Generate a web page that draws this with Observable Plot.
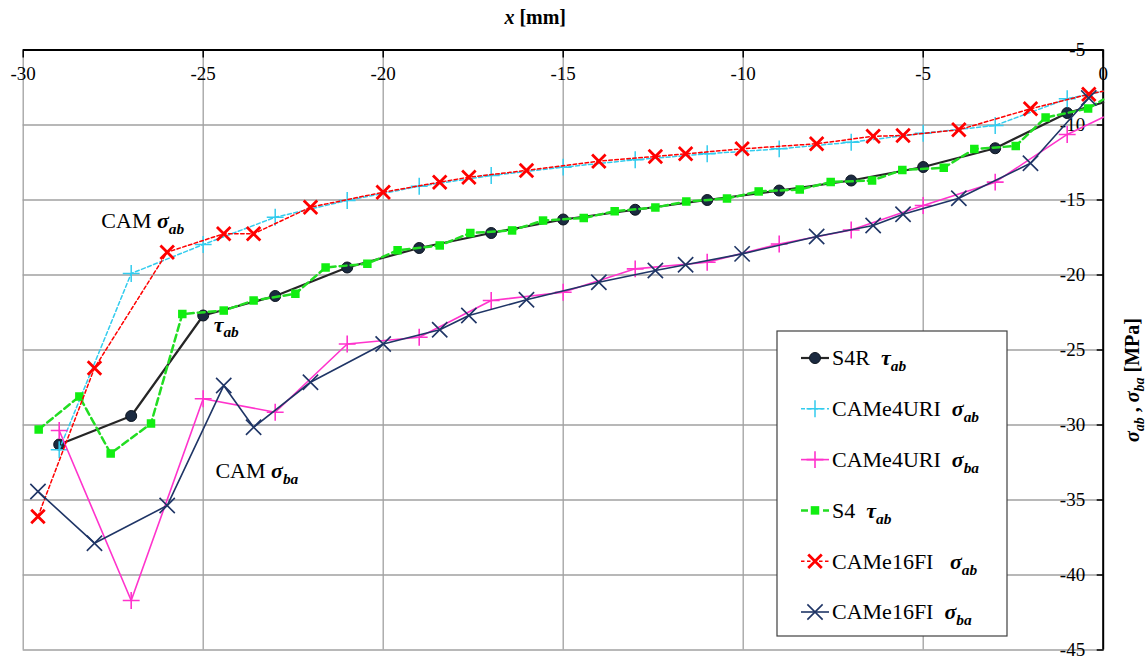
<!DOCTYPE html>
<html><head><meta charset="utf-8">
<script src="https://cdn.jsdelivr.net/npm/d3@7"></script>
<script src="https://cdn.jsdelivr.net/npm/@observablehq/plot@0.6"></script>
<style>
body{margin:0;background:#fff}
#chart{position:relative;width:1145px;height:659px}
</style>
</head><body><div id="chart"></div>
<script>
// ---- data ----
const s4rX = [-29,-27,-25,-23,-21,-19,-17,-15,-13,-11,-9,-7,-5,-3,-1,0];
const s4rTau = [-31.3,-29.4,-22.7,-21.4,-19.5,-18.2,-17.2,-16.3,-15.65,-15.0,-14.37,-13.7,-12.8,-11.55,-9.2,-8.5];

const uriX = [-29,-27,-25,-23,-21,-19,-17,-15,-13,-11,-9,-7,-5,-3,-1,0];
const uriSab = [-31.65,-19.9,-17.97,-16.15,-15.03,-14.08,-13.37,-12.81,-12.32,-11.92,-11.59,-11.15,-10.55,-10.03,-8.25,-7.75];
const uriSba = [-30.37,-41.7,-28.25,-29.15,-24.6,-24.15,-21.7,-21.15,-19.59,-19.15,-17.93,-17.0,-15.37,-13.81,-10.63,-9.48];

const s4X = [-29.57,-28.44,-27.57,-26.45,-25.58,-24.43,-23.6,-22.44,-21.6,-20.44,-19.6,-18.43,-17.58,-16.42,-15.56,-14.43,-13.57,-12.44,-11.58,-10.45,-9.57,-8.43,-7.57,-6.42,-5.58,-4.43,-3.58,-2.43,-1.6,-0.42,0];
const s4Tau = [-30.3,-28.1,-31.9,-29.9,-22.6,-22.37,-21.7,-21.25,-19.5,-19.25,-18.35,-18.03,-17.2,-17.03,-16.37,-16.2,-15.75,-15.5,-15.1,-14.9,-14.43,-14.3,-13.8,-13.7,-13.0,-12.85,-11.6,-11.4,-9.5,-8.9,-8.3];

const fiX = [-29.59,-28.02,-26.0,-24.43,-23.6,-22.02,-20,-18.43,-17.62,-16.02,-14.01,-12.44,-11.6,-10.03,-7.96,-6.39,-5.56,-4.01,-2.02,-0.4,0];
const fiSab = [-36.1,-26.2,-18.48,-17.25,-17.25,-15.48,-14.48,-13.81,-13.48,-13.03,-12.41,-12.1,-11.92,-11.59,-11.25,-10.75,-10.7,-10.32,-8.92,-7.95,-7.75];
const fiSba = [-34.43,-37.88,-35.37,-27.37,-30.15,-27.15,-24.6,-23.65,-22.7,-21.65,-20.48,-19.7,-19.32,-18.59,-17.43,-16.7,-15.95,-14.88,-12.55,-8.2,null];

const seriesNames = ["S4R\u00a0\u00a0τ_ab","CAMe4URI\u00a0\u00a0σ_ab","CAMe4URI\u00a0\u00a0σ_ba","S4\u00a0\u00a0τ_ab","CAMe16FI\u00a0\u00a0\u00a0σ_ab","CAMe16FI\u00a0\u00a0σ_ba"];
const seriesX = [s4rX, uriX, uriX, s4X, fiX, fiX];
const seriesY = [s4rTau, uriSab, uriSba, s4Tau, fiSab, fiSba];

const xTicks = [-30,-25,-20,-15,-10,-5,0];
const yTicks = [-45,-40,-35,-30,-25,-20,-15,-10,-5];

const annoText = ["CAM σ_ab", "τ_ab", "CAM σ_ba"];
const annoX = [-27.83, -24.71, -24.66];
const annoY = [-16.4, -23.3, -33.07];

// ---- styles ----
const styles = [
  {stroke:"#262626", width:2.2, dash:null, symbol:"circle", r:5.5, fill:"#1b2a40", mstroke:"#0d1520", mwidth:1},
  {stroke:"#33ccee", width:1.5, dash:"4,2.5", symbol:"plus", r:5.5, fill:"none", mstroke:"#33ccee", mwidth:1.5},
  {stroke:"#ff33cc", width:1.6, dash:null, symbol:"plus", r:5.5, fill:"none", mstroke:"#ff33cc", mwidth:1.6},
  {stroke:"#22dd22", width:2.5, dash:"7,4", symbol:"square", r:4.8, fill:"#11ee11", mstroke:"none", mwidth:0},
  {stroke:"#ff0000", width:1.5, dash:"3.5,2.5", symbol:"times", r:6.2, fill:"none", mstroke:"#ff0000", mwidth:2.8},
  {stroke:"#1f3566", width:1.6, dash:null, symbol:"times", r:7, fill:"none", mstroke:"#1f3566", mwidth:1.6}
];

const rows = seriesNames.map((name, i) => seriesX[i].map((x, j) => ({series: name, x, y: seriesY[i][j]})));

const gridStyle = {stroke:"#a0a0a0", strokeOpacity:1, strokeWidth:1.3};
const marks = [
  Plot.gridX(xTicks, gridStyle),
  Plot.gridY(yTicks, gridStyle),
  Plot.ruleY([-5], {stroke:"#000", strokeWidth:2}),
  Plot.ruleX([0], {stroke:"#000", strokeWidth:2}),
  Plot.axisX(xTicks, {anchor:"top", tickSize:-7, fill:"none", label:null, stroke:"#000", strokeWidth:1.5}),
  Plot.axisY(yTicks, {anchor:"right", tickSize:-7, fill:"none", label:null, stroke:"#000", strokeWidth:1.5}),
  Plot.text(xTicks, {x: d => d, text: d => String(d), frameAnchor:"top", lineAnchor:"middle", textAnchor:"middle", dy:24, fontSize:19, fill:"#000"}),
  Plot.text(yTicks, {y: d => d, text: d => String(d), frameAnchor:"right", lineAnchor:"middle", dx:-18, textAnchor:"end", fontSize:19, fill:"#000"}),
];
rows.forEach((data, i) => {
  const s = styles[i];
  marks.push(Plot.line(data, {x:"x", y:"y", stroke:s.stroke, strokeWidth:s.width, strokeDasharray:s.dash}));
  marks.push(Plot.dot(data.filter(d => d.x < 0 && d.y != null), {x:"x", y:"y", symbol:s.symbol, r:s.r, fill:s.fill, stroke:s.mstroke, strokeWidth:s.mwidth}));
});
marks.push(Plot.text(annoText, {x: (d,i) => annoX[i], y: (d,i) => annoY[i], text: d => d, textAnchor:"start", lineAnchor:"middle", fontSize:22, fill:"#000"}));
marks.push(Plot.text(["*x* [mm]"], {frameAnchor:"top", textAnchor:"middle", lineAnchor:"middle", dx:-28, dy:-32, fontSize:20, fontWeight:"bold", fill:"#000"}));
marks.push(Plot.text(["σ_ab , σ_ba [MPa]"], {frameAnchor:"right", textAnchor:"middle", lineAnchor:"middle", dx:29, dy:30, rotate:-90, fontSize:20, fontWeight:"bold", fill:"#000"}));

const svg = Plot.plot({
  width:1145, height:659,
  marginLeft:22.7, marginRight:42.3, marginTop:49.5, marginBottom:9.5,
  x:{domain:[-30,0]}, y:{domain:[-45,-5]},
  style:{fontFamily:"'Liberation Serif', 'Times New Roman', serif", fontSize:"19px", background:"#fff", color:"#000", overflow:"visible"},
  marks
});

// ---- legend ----
const lg = d3.select(svg).append("g").attr("transform","translate(777,331)");
lg.append("rect").attr("width",230).attr("height",305).attr("fill","#fff").attr("stroke","#404040").attr("stroke-width",1.2);
const symMap = {circle:d3.symbolCircle, plus:d3.symbolPlus, square:d3.symbolSquare, times:d3.symbolTimes};
seriesNames.forEach((name, i) => {
  const s = styles[i];
  const yy = 27 + i * 50.8;
  lg.append("line").attr("x1",24).attr("x2",52).attr("y1",yy).attr("y2",yy)
    .attr("stroke",s.stroke).attr("stroke-width",s.width).attr("stroke-dasharray",s.dash);
  lg.append("path").attr("d", d3.symbol(symMap[s.symbol], s.r*s.r*Math.PI)())
    .attr("transform",`translate(38,${yy})`).attr("fill",s.fill).attr("stroke",s.mstroke).attr("stroke-width",s.mwidth);
  lg.append("text").attr("x",55).attr("y",yy).attr("dy","0.34em").attr("text-anchor","start")
    .attr("font-size",22).attr("fill","#000").text(name);
});

// ---- rich text: italic (*..*) and greek with subscript (σ_ab) ----
const NS = "http://www.w3.org/2000/svg";
function enrich(t) {
  const s = t.textContent;
  if (!/[*_]/.test(s)) return;
  t.textContent = "";
  const re = /\*([^*]+)\*|([στ])_([a-z]+)/g;
  let last = 0, m, shifted = false;
  const add = (str, opts) => {
    const sp = document.createElementNS(NS, "tspan");
    sp.textContent = str;
    if (opts.bi) { sp.setAttribute("font-style","italic"); sp.setAttribute("font-weight","bold"); }
    if (opts.it) sp.setAttribute("font-style","italic");
    if (opts.sub) { sp.setAttribute("font-size","0.7em"); sp.setAttribute("dy","0.38em"); shifted = true; }
    else if (shifted) { sp.setAttribute("dy","-0.266em"); shifted = false; }
    t.appendChild(sp);
  };
  while ((m = re.exec(s))) {
    if (m.index > last) add(s.slice(last, m.index), {});
    if (m[1]) add(m[1], {it:true});
    else { add(m[2], {bi:true}); add(m[3], {bi:true, sub:true}); }
    last = re.lastIndex;
  }
  if (last < s.length) add(s.slice(last), {});
}
svg.querySelectorAll("text").forEach(enrich);

document.getElementById("chart").appendChild(svg);
</script></body></html>
